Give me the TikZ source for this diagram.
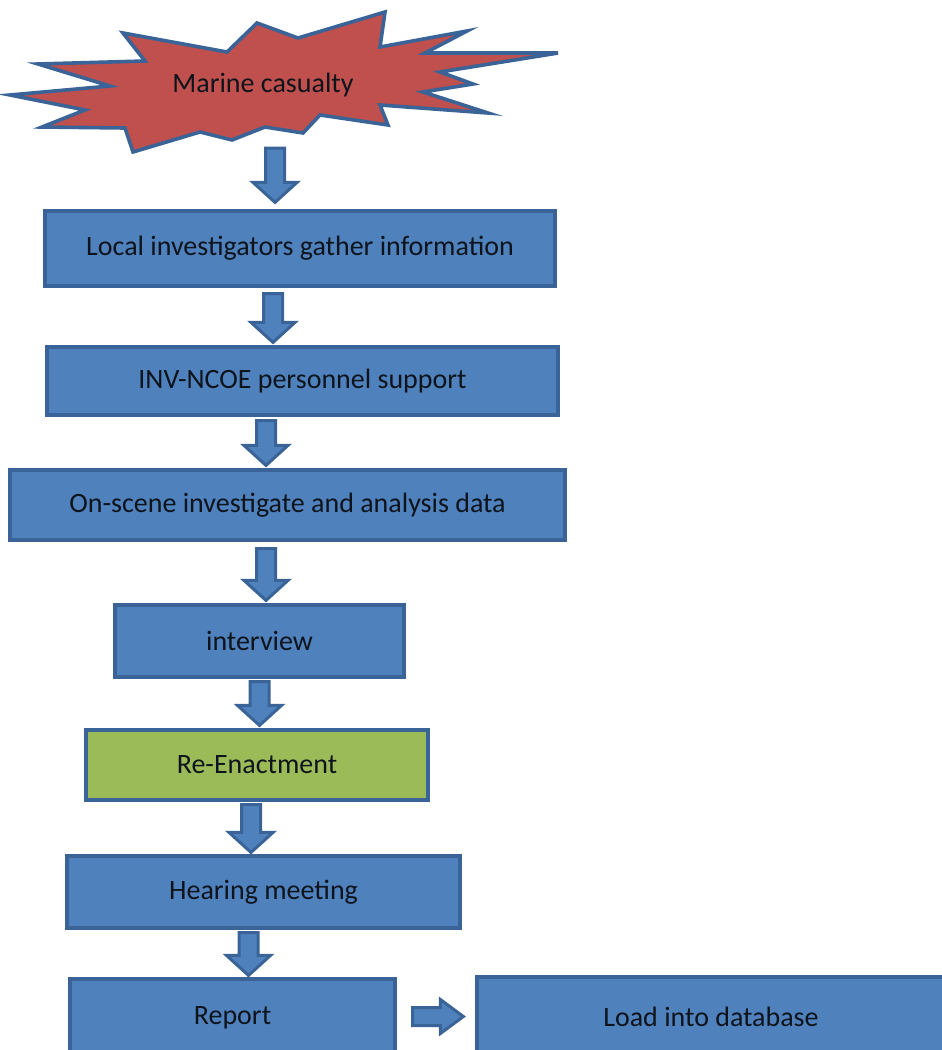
\documentclass[tikz,border=0pt]{standalone}
\usepackage{fontspec}
\setmainfont{Carlito}
\usetikzlibrary{calc}
\definecolor{boxblue}{HTML}{4F81BD}
\definecolor{edgeblue}{HTML}{3A6398}
\definecolor{starred}{HTML}{C0504D}
\definecolor{boxgreen}{HTML}{9BBB59}
\definecolor{ink}{HTML}{0E141C}
\begin{document}
\begin{tikzpicture}[x=1pt,y=-1pt,
  stepbox/.style={draw=edgeblue, fill=boxblue, line width=3.2pt, inner sep=0pt,
    text=ink, font=\fontsize{28}{32}\selectfont},
  downblk/.style={draw=edgeblue, fill=boxblue, line width=3pt, line join=miter,
    to path={let \p1=(\tikztostart), \p2=(\tikztotarget) in
      (\x1-9.5pt,\y1) -- (\x1+9.5pt,\y1) -- (\x1+9.5pt,\y2+20pt) -- (\x1+22pt,\y2+20pt)
      -- (\x1,\y2) -- (\x1-22pt,\y2+20pt) -- (\x1-9.5pt,\y2+20pt) -- cycle}},
  rightblk/.style={draw=edgeblue, fill=boxblue, line width=3pt, line join=miter,
    to path={let \p1=(\tikztostart), \p2=(\tikztotarget) in
      (\x1,\y1+9pt) -- (\x1,\y1-9pt) -- (\x2-23pt,\y1-9pt) -- (\x2-23pt,\y1-17pt)
      -- (\x2,\y1) -- (\x2-23pt,\y1+17pt) -- (\x2-23pt,\y1+9pt) -- cycle}}]

\useasboundingbox (0,0) rectangle (942,1050);

% explosion shape for the incident
\draw[fill=starred, draw=edgeblue, line width=3.6pt, line join=miter]
  (10,95) -- (110,86) -- (38,64) -- (145,61) -- (123,33) -- (227,52) -- (257,23)
  -- (298,38) -- (385,12) -- (380,47) -- (467,31) -- (425,53) -- (558,53)
  -- (440,72) -- (473,84) -- (423,92) -- (488,113) -- (380,105) -- (388,125)
  -- (320,115) -- (303,133) -- (265,127) -- (232,140) -- (200,132) -- (133,152)
  -- (125,128) -- (42,127) -- (85,110) -- cycle;
\node[minimum height=126pt, inner sep=0pt, text=ink, font=\fontsize{28}{32}\selectfont]
  (cas) at (263,85) {Marine casualty};

% process steps
\node[stepbox, minimum width=510pt, minimum height=75pt] (b1) at (300,248.5)
  {Local investigators gather information};
\node[stepbox, minimum width=511pt, minimum height=68pt] (b2) at (302.5,381)
  {INV-NCOE personnel support};
\node[stepbox, minimum width=555pt, minimum height=70pt] (b3) at (287.5,505)
  {On-scene investigate and analysis data};
\node[stepbox, minimum width=289pt, minimum height=72pt] (b4) at (259.5,641)
  {interview};
\node[stepbox, fill=boxgreen, minimum width=342pt, minimum height=70pt] (b5) at (257,765)
  {Re-Enactment};
\node[stepbox, minimum width=393pt, minimum height=72pt] (b6) at (263.5,892)
  {Hearing meeting};
\node[stepbox, minimum width=325pt, minimum height=77pt] (b7) at (232.5,1017.5)
  {Report};
\node[stepbox, minimum width=468pt, minimum height=79pt] (b8) at (711,1016.5)
  {Load into database};

% block arrows between the steps
\draw[downblk] ([xshift=12pt]cas.south) to ([yshift=7pt]b1.north);
\draw[downblk] ([xshift=-27pt,yshift=-6pt]b1.south) to ([yshift=3pt]b2.north);
\draw[downblk] ([xshift=-36.5pt,yshift=-4pt]b2.south) to ([yshift=3pt]b3.north);
\draw[downblk] ([xshift=-21.5pt,yshift=-7pt]b3.south) to ([yshift=3pt]b4.north);
\draw[downblk] ([xshift=0pt,yshift=-3pt]b4.south) to ([yshift=3pt]b5.north);
\draw[downblk] ([xshift=-6pt,yshift=-3pt]b5.south) to ([yshift=2pt]b6.north);
\draw[downblk] ([xshift=-15pt,yshift=-3pt]b6.south) to ([yshift=2pt]b7.north);
\draw[rightblk] ([xshift=16pt,yshift=1pt]b7.east) to ([xshift=-12pt]b8.west);
\end{tikzpicture}
\end{document}
